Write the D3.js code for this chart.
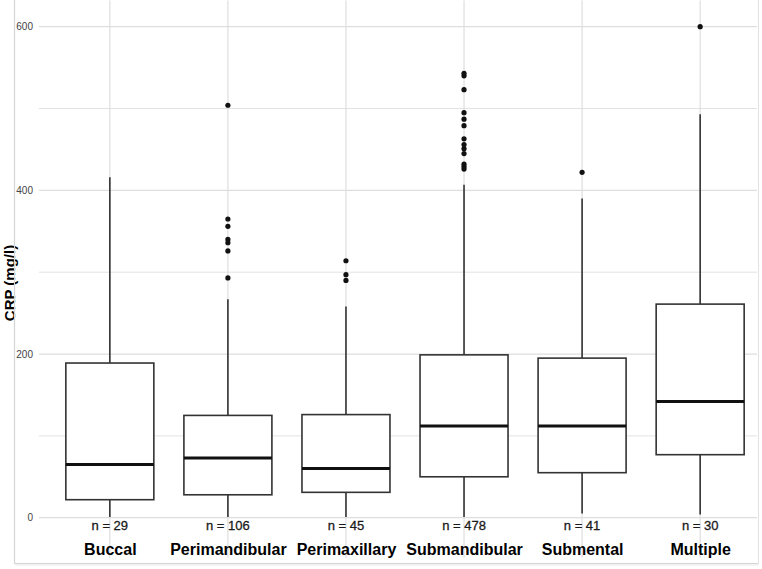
<!DOCTYPE html>
<html>
<head>
<meta charset="utf-8">
<script src="https://cdn.jsdelivr.net/npm/d3@7"></script>
<style>
  body { margin: 0; background: #fff; }
  svg { display: block; font-family: "Liberation Sans", Arial, sans-serif; }
</style>
</head>
<body>
<script>
// CRP by abscess location
const categories = ["Buccal", "Perimandibular", "Perimaxillary", "Submandibular", "Submental", "Multiple"];
const nCounts = [29, 106, 45, 478, 41, 30];
const whiskerLow = [1, 1, 1, 1, 5, 4];
const q1 = [22, 28, 31, 50, 55, 77];
const median = [65, 73, 60, 112, 112, 142];
const q3 = [189, 125, 126, 199, 195, 261];
const whiskerHigh = [416, 267, 258, 407, 390, 493];
const outliers = [
  [],
  [293, 326, 336, 340, 356, 365, 504],
  [290, 297, 314],
  [426, 429, 432, 445, 451, 456, 463, 479, 487, 495, 523, 540, 543],
  [422],
  [600]
];
const majorTicks = [0, 200, 400, 600];
const minorTicks = [100, 300, 500];

const data = categories.map((c, i) => ({
  cat: c, n: nCounts[i], lo: whiskerLow[i], q1: q1[i], med: median[i],
  q3: q3[i], hi: whiskerHigh[i], out: outliers[i]
}));

const width = 762, height = 569;
const panelLeft = 39, panelRight = 757;

const svg = d3.select("body").append("svg")
  .attr("width", width)
  .attr("height", height);

// scales
const x = d3.scalePoint().domain(categories).range([39, 771]).padding(0.6);
const y = d3.scaleLinear().domain([0, 600]).range([517.7, 26.7]);
const boxW = 88;

// clip to the visible frame
svg.append("defs").append("clipPath").attr("id", "panel")
  .append("rect").attr("x", panelLeft).attr("y", 0)
  .attr("width", panelRight - panelLeft).attr("height", 562);

const grid = svg.append("g").attr("clip-path", "url(#panel)");

// minor grid
grid.selectAll("line.minor")
  .data(minorTicks)
  .enter().append("line")
  .attr("x1", panelLeft).attr("x2", panelRight)
  .attr("y1", d => y(d)).attr("y2", d => y(d))
  .attr("stroke", "#e3e3e3").attr("stroke-width", 1);

// major grid
grid.selectAll("line.major")
  .data(majorTicks)
  .enter().append("line")
  .attr("x1", panelLeft).attr("x2", panelRight)
  .attr("y1", d => y(d)).attr("y2", d => y(d))
  .attr("stroke", "#dedede").attr("stroke-width", 1.2);

// vertical grid
grid.selectAll("line.vert")
  .data(categories)
  .enter().append("line")
  .attr("x1", d => x(d)).attr("x2", d => x(d))
  .attr("y1", y(632)).attr("y2", y(-49))
  .attr("stroke", "#dedede").attr("stroke-width", 1.2);

// y axis labels
const yAxis = svg.append("g")
  .attr("transform", "translate(" + panelLeft + ",0)")
  .call(d3.axisLeft(y).tickValues(majorTicks).tickSize(0).tickPadding(6));
yAxis.select(".domain").remove();
yAxis.selectAll("text")
  .attr("font-size", 10)
  .attr("font-family", "Liberation Sans, Arial, sans-serif")
  .attr("fill", "#444");

// y title
svg.append("text")
  .attr("transform", "translate(14.5," + 283 + ")rotate(-90)")
  .attr("text-anchor", "middle")
  .attr("font-size", 15)
  .attr("font-weight", "bold")
  .attr("fill", "#000")
  .text("CRP (mg/l)");

const boxes = svg.append("g");

// whiskers
boxes.selectAll("line.whisker-hi")
  .data(data).enter().append("line")
  .attr("x1", d => x(d.cat)).attr("x2", d => x(d.cat))
  .attr("y1", d => y(d.q3)).attr("y2", d => y(d.hi))
  .attr("stroke", "#333").attr("stroke-width", 1.6);
boxes.selectAll("line.whisker-lo")
  .data(data).enter().append("line")
  .attr("x1", d => x(d.cat)).attr("x2", d => x(d.cat))
  .attr("y1", d => y(d.q1)).attr("y2", d => y(d.lo))
  .attr("stroke", "#333").attr("stroke-width", 1.6);

// boxes
boxes.selectAll("rect.box")
  .data(data).enter().append("rect")
  .attr("x", d => x(d.cat) - boxW / 2)
  .attr("width", boxW)
  .attr("y", d => y(d.q3))
  .attr("height", d => y(d.q1) - y(d.q3))
  .attr("fill", "#fff")
  .attr("stroke", "#333").attr("stroke-width", 1.6);

// medians
boxes.selectAll("line.median")
  .data(data).enter().append("line")
  .attr("x1", d => x(d.cat) - boxW / 2).attr("x2", d => x(d.cat) + boxW / 2)
  .attr("y1", d => y(d.med)).attr("y2", d => y(d.med))
  .attr("stroke", "#111").attr("stroke-width", 3);

// outliers
const outPts = [];
data.forEach(d => d.out.forEach(v => outPts.push({ cat: d.cat, v: v })));
boxes.selectAll("circle.out")
  .data(outPts).enter().append("circle")
  .attr("cx", d => x(d.cat)).attr("cy", d => y(d.v))
  .attr("r", 2.6).attr("fill", "#111");

// n labels
svg.selectAll("text.n")
  .data(data).enter().append("text")
  .attr("x", d => x(d.cat)).attr("y", 529.6)
  .attr("text-anchor", "middle")
  .attr("font-size", 13)
  .attr("fill", "#1a1a1a")
  .attr("stroke", "#1a1a1a").attr("stroke-width", 0.3)
  .text(d => "n = " + d.n);

// category labels
const xAxis = svg.append("g")
  .attr("transform", "translate(0,543.4)")
  .call(d3.axisBottom(x).tickSize(0).tickPadding(0));
xAxis.select(".domain").remove();
xAxis.selectAll("text")
  .attr("font-size", 16)
  .attr("font-weight", "bold")
  .attr("font-family", "Liberation Sans, Arial, sans-serif")
  .attr("fill", "#000");

// screenshot frame
svg.append("line").attr("x1", 14.5).attr("x2", 14.5).attr("y1", 0).attr("y2", 563.5)
  .attr("stroke", "#d4d4d4").attr("stroke-width", 1.2);
svg.append("line").attr("x1", 14.5).attr("x2", 758.5).attr("y1", 563.5).attr("y2", 563.5)
  .attr("stroke", "#d4d4d4").attr("stroke-width", 1.2);
svg.append("line").attr("x1", 758.5).attr("x2", 758.5).attr("y1", 0).attr("y2", 563.5)
  .attr("stroke", "#e2e2e2").attr("stroke-width", 1);
svg.append("line").attr("x1", 15).attr("x2", 759).attr("y1", 565).attr("y2", 565)
  .attr("stroke", "#efefef").attr("stroke-width", 1.5);
</script>
</body>
</html>
